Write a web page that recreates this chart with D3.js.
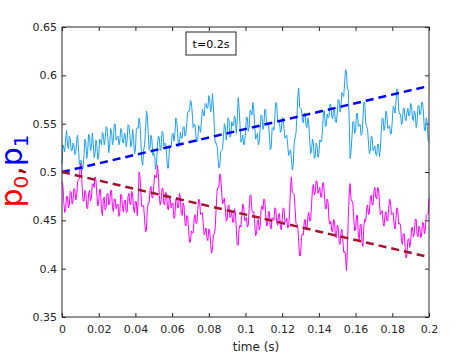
<!DOCTYPE html>
<html>
<head>
<meta charset="utf-8">
<script src="https://cdn.jsdelivr.net/npm/d3@7"></script>
<style>
  body { margin: 0; background: #fff; }
  text { font-family: "DejaVu Sans", sans-serif; }
</style>
</head>
<body>
<div id="chart"></div>
<script>
// time step of the noisy traces (s); values on whole ms, extra values half way
var dt = 0.001;

// p1 (light blue), one value per ms
var p1Values = [
  0.508, 0.525, 0.534, 0.528, 0.537, 0.522, 0.530, 0.518, 0.533, 0.524,
  0.512, 0.502, 0.518, 0.530, 0.522, 0.537, 0.526, 0.531, 0.519, 0.528,
  0.515, 0.532, 0.541, 0.528, 0.547, 0.535, 0.529, 0.542, 0.533, 0.549,
  0.536, 0.528, 0.545, 0.531, 0.540, 0.526, 0.549, 0.538, 0.530, 0.534,
  0.522, 0.546, 0.556, 0.531, 0.507, 0.528, 0.563, 0.540, 0.525, 0.533,
  0.520, 0.503, 0.527, 0.536, 0.524, 0.541, 0.530, 0.518, 0.504, 0.526,
  0.538, 0.532, 0.556, 0.541, 0.529, 0.535, 0.546, 0.537, 0.551, 0.563,
  0.574, 0.560, 0.549, 0.537, 0.534, 0.546, 0.552, 0.561, 0.570, 0.566,
  0.579, 0.562, 0.581, 0.548, 0.530, 0.515, 0.506, 0.522, 0.537, 0.546,
  0.541, 0.553, 0.537, 0.548, 0.558, 0.540, 0.577, 0.549, 0.533, 0.528,
  0.541, 0.556, 0.546, 0.563, 0.572, 0.549, 0.536, 0.528, 0.545, 0.558,
  0.548, 0.564, 0.551, 0.538, 0.525, 0.546, 0.557, 0.571, 0.552, 0.541,
  0.556, 0.545, 0.537, 0.528, 0.520, 0.514, 0.507, 0.535, 0.556, 0.587,
  0.566, 0.553, 0.561, 0.548, 0.556, 0.532, 0.522, 0.530, 0.516, 0.527,
  0.519, 0.531, 0.545, 0.563, 0.548, 0.556, 0.570, 0.558, 0.565, 0.552,
  0.561, 0.574, 0.566, 0.580, 0.592, 0.603, 0.585, 0.514, 0.536, 0.552,
  0.543, 0.561, 0.549, 0.538, 0.555, 0.572, 0.547, 0.531, 0.522, 0.536,
  0.524, 0.518, 0.529, 0.516, 0.542, 0.555, 0.548, 0.561, 0.546, 0.539,
  0.553, 0.566, 0.572, 0.584, 0.560, 0.549, 0.566, 0.555, 0.562, 0.558,
  0.571, 0.555, 0.563, 0.546, 0.568, 0.559, 0.572, 0.561, 0.543, 0.552,
  0.531
];

// p1 at the half ms points
var p1Half = [
  0.528, 0.521, 0.543, 0.524, 0.534, 0.522, 0.528, 0.520, 0.538, 0.508,
  0.512, 0.505, 0.534, 0.514, 0.539, 0.522, 0.540, 0.515, 0.533, 0.513,
  0.534, 0.528, 0.539, 0.533, 0.546, 0.520, 0.545, 0.528, 0.550, 0.533,
  0.537, 0.532, 0.543, 0.530, 0.538, 0.533, 0.548, 0.526, 0.544, 0.519,
  0.544, 0.545, 0.550, 0.511, 0.523, 0.542, 0.558, 0.523, 0.538, 0.517,
  0.516, 0.509, 0.537, 0.522, 0.542, 0.527, 0.529, 0.504, 0.524, 0.526,
  0.540, 0.539, 0.553, 0.526, 0.541, 0.535, 0.547, 0.539, 0.562, 0.563,
  0.572, 0.546, 0.549, 0.531, 0.548, 0.541, 0.565, 0.558, 0.571, 0.566,
  0.575, 0.567, 0.567, 0.530, 0.527, 0.504, 0.521, 0.524, 0.550, 0.533,
  0.556, 0.536, 0.552, 0.548, 0.554, 0.555, 0.567, 0.531, 0.538, 0.530,
  0.557, 0.542, 0.564, 0.559, 0.565, 0.534, 0.540, 0.531, 0.559, 0.544,
  0.565, 0.549, 0.550, 0.523, 0.545, 0.543, 0.572, 0.553, 0.552, 0.543,
  0.556, 0.535, 0.538, 0.517, 0.523, 0.502, 0.529, 0.540, 0.578, 0.567,
  0.565, 0.551, 0.560, 0.546, 0.550, 0.519, 0.534, 0.514, 0.530, 0.515,
  0.533, 0.532, 0.563, 0.547, 0.560, 0.557, 0.570, 0.555, 0.564, 0.551,
  0.575, 0.562, 0.582, 0.578, 0.606, 0.586, 0.555, 0.520, 0.552, 0.540,
  0.560, 0.547, 0.549, 0.540, 0.572, 0.551, 0.545, 0.519, 0.537, 0.522,
  0.527, 0.517, 0.528, 0.524, 0.556, 0.543, 0.563, 0.545, 0.548, 0.540,
  0.568, 0.561, 0.586, 0.564, 0.560, 0.552, 0.566, 0.553, 0.566, 0.559,
  0.569, 0.553, 0.560, 0.551, 0.569, 0.560, 0.572, 0.543, 0.556, 0.533
];

// p0 (magenta), one value per ms
var p0Values = [
  0.490, 0.468, 0.462, 0.474, 0.466, 0.479, 0.470, 0.482, 0.475, 0.492,
  0.509, 0.484, 0.470, 0.478, 0.462, 0.481, 0.473, 0.488, 0.495, 0.476,
  0.469, 0.482, 0.455, 0.474, 0.463, 0.478, 0.468, 0.481, 0.459, 0.472,
  0.466, 0.454, 0.477, 0.462, 0.470, 0.458, 0.475, 0.467, 0.480, 0.461,
  0.470, 0.455, 0.500, 0.478, 0.465, 0.451, 0.440, 0.468, 0.482, 0.474,
  0.486, 0.495, 0.507, 0.476, 0.470, 0.483, 0.466, 0.478, 0.461, 0.472,
  0.468, 0.452, 0.471, 0.463, 0.478, 0.456, 0.468, 0.448, 0.455, 0.440,
  0.428, 0.437, 0.452, 0.447, 0.461, 0.470, 0.457, 0.446, 0.438, 0.432,
  0.441, 0.425, 0.420, 0.436, 0.462, 0.484, 0.498, 0.479, 0.470, 0.462,
  0.451, 0.466, 0.455, 0.448, 0.462, 0.441, 0.424, 0.445, 0.456, 0.464,
  0.450, 0.443, 0.462, 0.476, 0.458, 0.447, 0.436, 0.451, 0.444, 0.465,
  0.472, 0.456, 0.446, 0.459, 0.441, 0.452, 0.463, 0.448, 0.456, 0.444,
  0.451, 0.462, 0.449, 0.442, 0.458, 0.495, 0.478, 0.463, 0.446, 0.427,
  0.414, 0.436, 0.448, 0.441, 0.454, 0.449, 0.466, 0.487, 0.479, 0.490,
  0.481, 0.474, 0.488, 0.477, 0.462, 0.469, 0.446, 0.439, 0.451, 0.433,
  0.445, 0.428, 0.437, 0.431, 0.418, 0.398, 0.452, 0.488, 0.470, 0.452,
  0.441, 0.455, 0.430, 0.446, 0.423, 0.451, 0.462, 0.456, 0.473, 0.466,
  0.480, 0.474, 0.484, 0.468, 0.459, 0.447, 0.455, 0.450, 0.462, 0.469,
  0.457, 0.445, 0.452, 0.460, 0.447, 0.429, 0.436, 0.422, 0.415, 0.431,
  0.428, 0.443, 0.437, 0.451, 0.433, 0.442, 0.436, 0.447, 0.440, 0.456,
  0.472
];

// p0 at the half ms points
var p0Half = [
  0.486, 0.458, 0.475, 0.463, 0.480, 0.467, 0.483, 0.471, 0.490, 0.493,
  0.503, 0.470, 0.481, 0.463, 0.478, 0.470, 0.487, 0.484, 0.492, 0.465,
  0.482, 0.461, 0.471, 0.461, 0.477, 0.466, 0.481, 0.463, 0.472, 0.462,
  0.467, 0.458, 0.476, 0.459, 0.471, 0.459, 0.478, 0.466, 0.477, 0.458,
  0.469, 0.470, 0.496, 0.464, 0.465, 0.438, 0.461, 0.468, 0.485, 0.473,
  0.497, 0.494, 0.498, 0.466, 0.483, 0.467, 0.479, 0.462, 0.473, 0.463,
  0.467, 0.454, 0.474, 0.463, 0.474, 0.455, 0.465, 0.444, 0.454, 0.427,
  0.439, 0.437, 0.456, 0.447, 0.472, 0.456, 0.458, 0.435, 0.442, 0.429,
  0.440, 0.416, 0.435, 0.442, 0.480, 0.484, 0.495, 0.467, 0.473, 0.449,
  0.465, 0.453, 0.458, 0.448, 0.458, 0.425, 0.441, 0.443, 0.467, 0.450,
  0.453, 0.445, 0.476, 0.460, 0.459, 0.434, 0.450, 0.440, 0.461, 0.461,
  0.471, 0.444, 0.459, 0.443, 0.453, 0.450, 0.462, 0.445, 0.457, 0.440,
  0.463, 0.448, 0.452, 0.443, 0.483, 0.479, 0.477, 0.447, 0.443, 0.413,
  0.432, 0.435, 0.451, 0.440, 0.458, 0.450, 0.483, 0.476, 0.491, 0.478,
  0.484, 0.474, 0.489, 0.462, 0.472, 0.450, 0.449, 0.438, 0.449, 0.432,
  0.443, 0.425, 0.441, 0.417, 0.415, 0.418, 0.477, 0.472, 0.468, 0.439,
  0.455, 0.435, 0.445, 0.427, 0.444, 0.449, 0.466, 0.457, 0.476, 0.466,
  0.484, 0.472, 0.483, 0.456, 0.460, 0.444, 0.459, 0.449, 0.472, 0.456,
  0.458, 0.441, 0.463, 0.446, 0.445, 0.425, 0.436, 0.411, 0.430, 0.422,
  0.442, 0.433, 0.451, 0.435, 0.444, 0.432, 0.448, 0.436, 0.455, 0.457
];

// dashed trend lines: [t, value] end points
var p1Trend = [[0, 0.5], [0.2, 0.589]];
var p0Trend = [[0, 0.5], [0.2, 0.412]];

var xTicks = [0, 0.02, 0.04, 0.06, 0.08, 0.1, 0.12, 0.14, 0.16, 0.18, 0.2];
var yTicks = [0.35, 0.4, 0.45, 0.5, 0.55, 0.6, 0.65];

// put whole and half ms values together as [t, value]
function buildSeries(whole, half) {
  var out = [];
  whole.forEach(function(v, i) {
    out.push([i * dt, v]);
    if (i < half.length) out.push([(i + 0.5) * dt, half[i]]);
  });
  return out;
}
var p1Series = buildSeries(p1Values, p1Half);
var p0Series = buildSeries(p0Values, p0Half);

var svgWidth = 474;
var svgHeight = 356;
var margin = { top: 27, right: 45, bottom: 39, left: 62 };
var width = 429 - margin.left;
var height = 317 - margin.top;

var svg = d3.select("#chart")
  .append("svg")
  .attr("width", svgWidth)
  .attr("height", svgHeight);

var chartGroup = svg.append("g")
  .attr("transform", `translate(${margin.left}, ${margin.top})`);

var xScale = d3.scaleLinear().domain([0, 0.2]).range([0, width]);
var yScale = d3.scaleLinear().domain([0.35, 0.65]).range([height, 0]);

var axisColor = "#262626";

// axes, ticks pointing inwards like matlab
function styleAxis(g) {
  g.select(".domain").remove();
  g.selectAll("line").attr("stroke", axisColor);
  g.selectAll("text").attr("fill", axisColor).style("font-size", "11px");
}

chartGroup.append("g")
  .attr("transform", `translate(0, ${height})`)
  .call(d3.axisBottom(xScale).tickValues(xTicks).tickSize(-4).tickPadding(8)
    .tickFormat(d3.format("~g")))
  .call(styleAxis);

chartGroup.append("g")
  .call(d3.axisTop(xScale).tickValues(xTicks).tickSize(-4).tickFormat(""))
  .call(styleAxis);

chartGroup.append("g")
  .call(d3.axisLeft(yScale).tickValues(yTicks).tickSize(-4).tickPadding(5)
    .tickFormat(d3.format("~g")))
  .call(styleAxis);

chartGroup.append("g")
  .attr("transform", `translate(${width}, 0)`)
  .call(d3.axisRight(yScale).tickValues(yTicks).tickSize(-4).tickFormat(""))
  .call(styleAxis);

// noisy traces
var line = d3.line()
  .x(d => xScale(d[0]))
  .y(d => yScale(d[1]));

chartGroup.append("path")
  .datum(p1Series)
  .attr("d", line)
  .attr("fill", "none")
  .attr("stroke", "#1ea0f2")
  .attr("stroke-width", 1);

chartGroup.append("path")
  .datum(p0Series)
  .attr("d", line)
  .attr("fill", "none")
  .attr("stroke", "#ff00ff")
  .attr("stroke-width", 1);

// dashed trends
chartGroup.append("path")
  .datum(p1Trend)
  .attr("d", line)
  .attr("fill", "none")
  .attr("stroke", "#0000ff")
  .attr("stroke-width", 2.5)
  .attr("stroke-dasharray", "8,5");

chartGroup.append("path")
  .datum(p0Trend)
  .attr("d", line)
  .attr("fill", "none")
  .attr("stroke", "#a2142f")
  .attr("stroke-width", 2.5)
  .attr("stroke-dasharray", "8,5");

// box
chartGroup.append("rect")
  .attr("width", width)
  .attr("height", height)
  .attr("fill", "none")
  .attr("stroke", axisColor)
  .attr("stroke-width", 1);

// annotation box
var note = svg.append("g").attr("transform", "translate(186, 32)");
note.append("rect")
  .attr("width", 50)
  .attr("height", 23)
  .attr("fill", "#fff")
  .attr("stroke", axisColor);
note.append("text")
  .attr("x", 25)
  .attr("y", 15.5)
  .attr("text-anchor", "middle")
  .style("font-size", "11px")
  .attr("fill", "#000")
  .text("t=0.2s");

// x label
svg.append("text")
  .attr("x", 256)
  .attr("y", 351)
  .attr("text-anchor", "middle")
  .style("font-size", "12px")
  .attr("fill", axisColor)
  .text("time (s)");

// y label p0,p1
var yLabel = svg.append("text")
  .attr("transform", "translate(22, 171) rotate(-90)")
  .attr("text-anchor", "middle")
  .style("font-size", "30px");
yLabel.append("tspan").attr("fill", "#ff0000").text("p");
yLabel.append("tspan").attr("fill", "#ff0000").attr("dy", 6).style("font-size", "20px").text("0");
yLabel.append("tspan").attr("fill", "#a00000").attr("dy", -6).text(",");
yLabel.append("tspan").attr("fill", "#0000ff").text("p");
yLabel.append("tspan").attr("fill", "#0000ff").attr("dy", 6).style("font-size", "20px").text("1");
</script>
</body>
</html>
